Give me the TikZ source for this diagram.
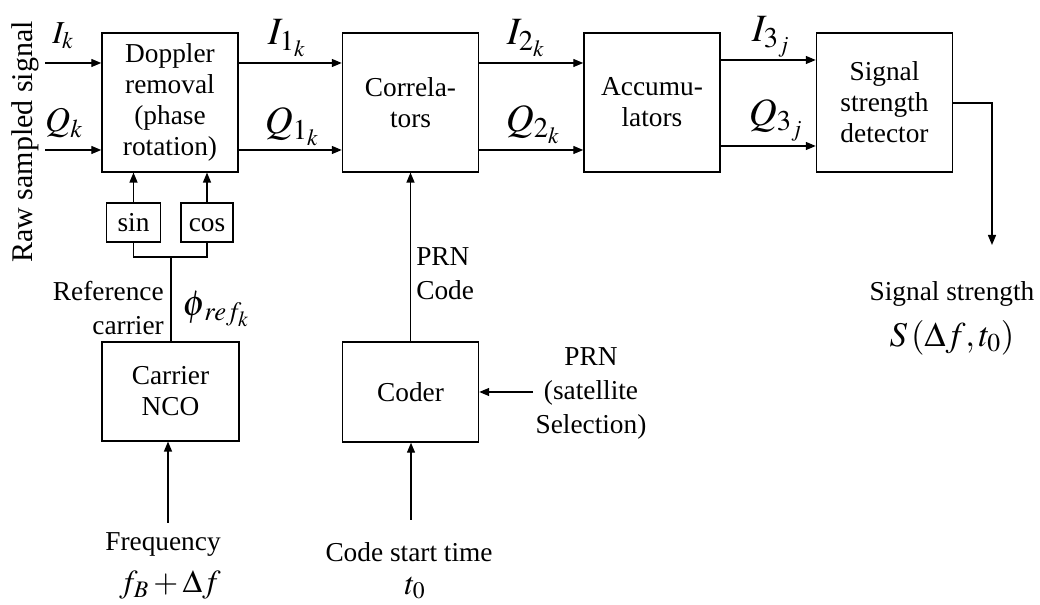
\documentclass[tikz,border=0pt]{standalone}
\usepackage{mathptmx}
\usepackage{fontspec}
\setmainfont{Liberation Serif}
\usetikzlibrary{arrows.meta}

\tikzset{
  blk/.style={draw, line width=1.1pt, align=center, inner sep=0pt, minimum width=102pt, minimum height=104pt, font=\fontsize{20.5}{23.3}\selectfont},
  trig/.style={draw, line width=1.1pt, inner sep=0pt, minimum width=40.5pt, minimum height=29pt, text height=14pt, text depth=1pt, font=\fontsize{20.5}{23.3}\selectfont},
  lbl/.style={inner sep=0pt, align=center, font=\fontsize{20.5}{25.5}\selectfont},
  sig/.style={inner sep=0pt, font=\fontsize{29}{30}\selectfont},
  wire/.style={line width=1pt},
  flow/.style={wire, -{Triangle[length=7.5pt,width=6pt]}},
}

\begin{document}
\begin{tikzpicture}[x=0.75pt,y=0.75pt,yscale=-1,xscale=1]
        \useasboundingbox (0,0) rectangle (1040,605);
        \node[blk] (dop) at (170,102.5) {Doppler\\removal\\(phase\\rotation)};
        \node[blk] (cor) at (410.5,102.5) {Correla-\\tors};
        \node[blk] (acc) at (652,102.5) {Accumu-\\lators};
        \node[blk] (det) at (884.5,102.5) {Signal\\strength\\detector};
        \node[trig] (sinb) at (133.5,222.5) {sin};
        \node[trig, minimum width=39pt] (cosb) at (207,222.5) {cos};
        \node[blk, minimum height=74pt, minimum width=103pt] (nco) at (170.5,391.5) {Carrier\\NCO};
        \node[blk, minimum height=75pt] (coder) at (410.5,392) {Coder};

        \coordinate (ik) at (45,63);
        \coordinate (qk) at (45,150);
        \coordinate (i3) at (720,60);
        \coordinate (q3) at (720,146);
        \coordinate (jn) at (171,257);
        \coordinate (prn) at (533,392);
        \coordinate (cst) at (411,520);
        \coordinate (frq) at (168,523);
        \coordinate (sout) at (952,103);
        \coordinate (out) at (992,245);

        \draw[flow] (ik) -- (ik -| dop.west);
        \draw[flow] (qk) -- (qk -| dop.west);
        \draw[flow] (ik -| dop.east) -- (ik -| cor.west);
        \draw[flow] (qk -| dop.east) -- (qk -| cor.west);
        \draw[flow] (ik -| cor.east) -- (ik -| acc.west);
        \draw[flow] (qk -| cor.east) -- (qk -| acc.west);
        \draw[flow] (i3) -- (i3 -| det.west);
        \draw[flow] (q3) -- (q3 -| det.west);
        \draw[flow] (sinb.north) -- (sinb.north |- dop.south);
        \draw[flow] (cosb.north) -- (cosb.north |- dop.south);
        \draw[wire] (sinb.south) |- (jn) -| (cosb.south);
        \draw[wire] (jn) -- (jn |- nco.north);
        \draw[flow] (coder.north) -- (cor.south);
        \draw[flow] (prn) -- (coder.east);
        \draw[flow] (cst) -- (cst |- coder.south);
        \draw[flow] (frq) -- (frq |- nco.south);
        \draw[flow] (sout) -| (out);

        \node[lbl, rotate=90, font=\fontsize{22.5}{24}\selectfont] (raw) at (25,142) {Raw sampled signal};
        \node[sig, font=\fontsize{24}{24}\selectfont] (ilbl) at (63,36) {$I_k$};
        \node[sig, font=\fontsize{26}{26}\selectfont] (qlbl) at (64,123) {$Q_k$};
        \node[sig] (i1lbl) at (287,38) {$I_{1_k}$};
        \node[sig] (q1lbl) at (292,127) {$Q_{1_k}$};
        \node[sig] (i2lbl) at (526,38) {$I_{2_k}$};
        \node[sig] (q2lbl) at (533,125) {$Q_{2_k}$};
        \node[sig] (i3lbl) at (771,37) {$I_{3_j}$};
        \node[sig] (q3lbl) at (776,120) {$Q_{3_j}$};
        \node[lbl, anchor=east, align=right] (refc) at (164,308) {Reference\\carrier};
        \node[sig, font=\fontsize{27}{27}\selectfont] (phi) at (216,309) {$\phi_{\,ref_k}$};
        \node[lbl, anchor=west, align=left] (prnc) at (416,274) {PRN\\Code};
        \node[lbl] (sel) at (591,393) {PRN\\(satellite\\Selection)};
        \node[lbl] (cstlbl) at (409,552) {Code start time};
        \node[sig, font=\fontsize{24}{24}\selectfont] (tlbl) at (415,588) {$t_0$};
        \node[lbl] (frqlbl) at (163,545) {Frequency};
        \node[sig, font=\fontsize{24}{24}\selectfont] (flbl) at (170,585) {$f_B+\Delta f$};
        \node[lbl] (sslbl) at (952,294) {Signal strength};
        \node[sig, font=\fontsize{26}{26}\selectfont] (slbl) at (952,338) {$S\left(\Delta f, t_0\right)$};
    \end{tikzpicture}
\end{document}
